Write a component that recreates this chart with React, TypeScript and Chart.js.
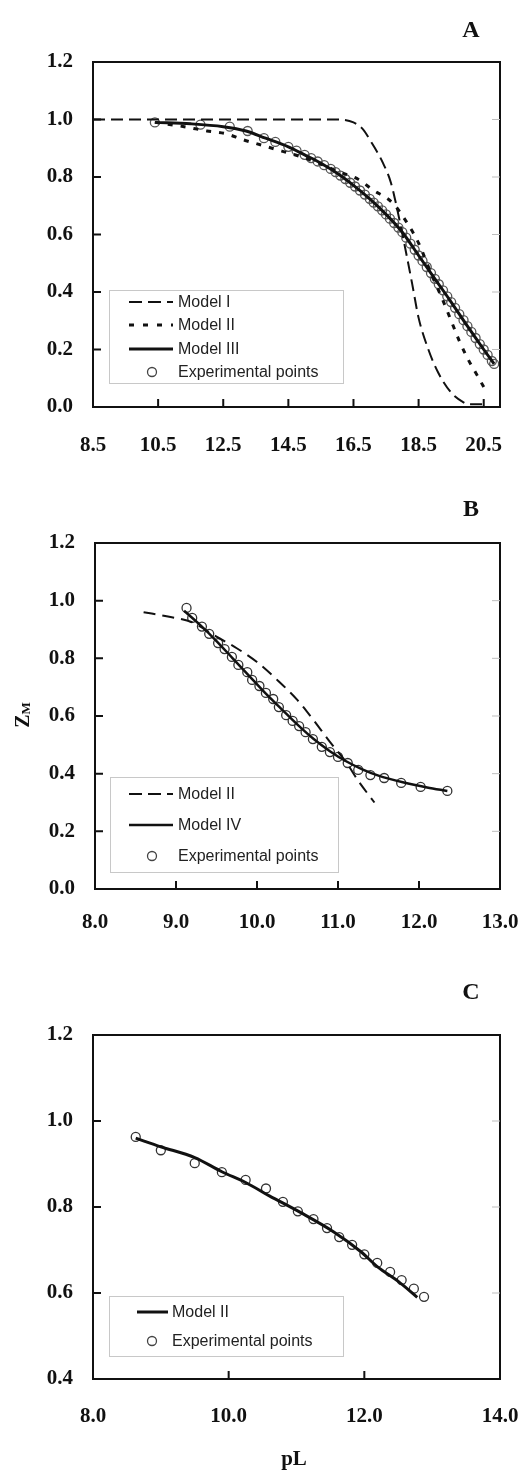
import React, { useEffect, useRef } from "react";
import { Chart, registerables } from "chart.js";

Chart.register(...registerables);

// ---------- Panel A ----------
const aXTicks = [8.5, 10.5, 12.5, 14.5, 16.5, 18.5, 20.5];
const aYTicks = [0, 0.2, 0.4, 0.6, 0.8, 1.0, 1.2];

const aModel1X = [8.5, 16.0, 16.5, 16.8, 17.0, 17.4, 17.65, 17.8, 18.1, 18.3, 18.5, 18.8, 19.1, 19.5, 19.9, 20.0, 20.45];
const aModel1Y = [1.0, 1.0, 0.99, 0.965, 0.93, 0.85, 0.78, 0.71, 0.546, 0.43, 0.31, 0.2, 0.12, 0.05, 0.015, 0.01, 0.01];

const aModel2X = [10.4, 11.3, 12.0, 12.6, 13.1, 13.7, 14.3, 14.9, 15.5, 16.0, 16.6, 17.1, 17.7, 18.15, 18.5, 18.9, 19.25, 19.5, 19.75, 20.0, 20.3, 20.6];
const aModel2Y = [0.99, 0.975, 0.96, 0.95, 0.93, 0.91, 0.89, 0.87, 0.845, 0.82, 0.795, 0.755, 0.71, 0.64, 0.57, 0.46, 0.37, 0.3, 0.23, 0.17, 0.11, 0.05];

const aModel3X = [10.4, 11.5, 12.5, 13.2, 13.8, 14.5, 15.0, 15.5, 16.0, 16.5, 17.0, 17.5, 18.0, 18.5, 19.0, 19.5, 20.0, 20.5, 20.82];
const aModel3Y = [0.99, 0.985, 0.975, 0.96, 0.935, 0.905, 0.877, 0.848, 0.813, 0.771, 0.724, 0.67, 0.608, 0.527, 0.446, 0.365, 0.281, 0.2, 0.15];

const aExpX = [10.4, 11.8, 12.7, 13.25, 13.75, 14.1, 14.5, 14.75, 15.0, 15.2, 15.4, 15.6, 15.8, 15.95, 16.1, 16.25, 16.4, 16.55, 16.7, 16.85, 17.0, 17.12, 17.25, 17.38, 17.5, 17.62, 17.75, 17.88, 18.0, 18.12, 18.25, 18.38, 18.5, 18.62, 18.75, 18.88, 19.0, 19.12, 19.25, 19.38, 19.5, 19.62, 19.75, 19.88, 20.0, 20.12, 20.25, 20.38, 20.5, 20.62, 20.75, 20.82];
const aExpY = [0.99, 0.982, 0.975, 0.96, 0.935, 0.922, 0.905, 0.892, 0.877, 0.866, 0.854, 0.841, 0.828, 0.817, 0.805, 0.793, 0.78, 0.767, 0.753, 0.739, 0.724, 0.711, 0.698, 0.684, 0.67, 0.655, 0.64, 0.624, 0.608, 0.589, 0.568, 0.547, 0.527, 0.508, 0.487, 0.466, 0.446, 0.427, 0.406, 0.385, 0.365, 0.345, 0.323, 0.302, 0.281, 0.261, 0.24, 0.219, 0.2, 0.181, 0.16, 0.15];

// ---------- Panel B ----------
const bXTicks = [8.0, 9.0, 10.0, 11.0, 12.0, 13.0];
const bYTicks = [0, 0.2, 0.4, 0.6, 0.8, 1.0, 1.2];

const bModel2X = [8.6, 8.9, 9.2, 9.5, 9.75, 10.0, 10.25, 10.5, 10.7, 10.9, 11.1, 11.25, 11.45];
const bModel2Y = [0.96, 0.945, 0.925, 0.875, 0.835, 0.787, 0.725, 0.655, 0.585, 0.51, 0.44, 0.375, 0.3];

const bModel4X = [9.1, 9.3, 9.5, 9.7, 9.9, 10.1, 10.3, 10.5, 10.7, 10.9, 11.1, 11.3, 11.5, 11.8, 12.1, 12.35];
const bModel4Y = [0.965, 0.915, 0.86, 0.8, 0.74, 0.68, 0.625, 0.57, 0.52, 0.478, 0.443, 0.415, 0.393, 0.37, 0.352, 0.34];

const bExpX = [9.13, 9.2, 9.32, 9.41, 9.52, 9.6, 9.69, 9.77, 9.88, 9.94, 10.03, 10.11, 10.2, 10.27, 10.36, 10.44, 10.52, 10.6, 10.69, 10.8, 10.9, 11.0, 11.12, 11.25, 11.4, 11.57, 11.78, 12.02, 12.35];
const bExpY = [0.975, 0.94, 0.91, 0.885, 0.853, 0.832, 0.805, 0.777, 0.752, 0.725, 0.704, 0.68, 0.659, 0.631, 0.603, 0.583, 0.565, 0.544, 0.52, 0.493, 0.475, 0.458, 0.437, 0.413, 0.395, 0.385, 0.368, 0.354, 0.34];

// ---------- Panel C ----------
const cXTicks = [8.0, 10.0, 12.0, 14.0];
const cYTicks = [0.4, 0.6, 0.8, 1.0, 1.2];

const cModel2X = [8.63, 9.0, 9.5, 9.9, 10.25, 10.6, 11.05, 11.55, 11.95, 12.2, 12.5, 12.78];
const cModel2Y = [0.96, 0.94, 0.915, 0.882, 0.857, 0.826, 0.788, 0.742, 0.696, 0.66, 0.627, 0.59];

const cExpX = [8.63, 9.0, 9.5, 9.9, 10.25, 10.55, 10.8, 11.02, 11.25, 11.45, 11.63, 11.82, 12.0, 12.19, 12.38, 12.55, 12.73, 12.88];
const cExpY = [0.963, 0.932, 0.902, 0.881, 0.863, 0.843, 0.812, 0.79, 0.772, 0.751, 0.73, 0.712, 0.69, 0.67, 0.649, 0.63, 0.61, 0.591];

const W = 529;
const SERIF = '"Liberation Serif", "Times New Roman", serif';
const SANS = '"Liberation Sans", Arial, sans-serif';
const INK = "#111";

const toPts = (xs: number[], ys: number[]) => xs.map((x, i) => ({ x, y: ys[i] }));

type LegendItem = { kind: "line" | "point"; label: string; dash?: number[]; width?: number };
type LegendSpec = {
  box: [number, number, number, number];
  rows: number[];
  lineX: [number, number];
  pointX: number;
  textX: number;
  items: LegendItem[];
};

type PanelSpec = {
  height: number;
  area: { left: number; top: number; bottom: number };
  xMin: number;
  xMax: number;
  yMin: number;
  yMax: number;
  xTicks: number[];
  yTicks: number[];
  xPad: number;
  datasets: any[];
  legend: LegendSpec;
  letter: { text: string; x: number; y: number };
  extra?: (ctx: CanvasRenderingContext2D) => void;
};

function lineDS(xs: number[], ys: number[], label: string, dash: number[], width: number, order: number) {
  return {
    label,
    data: toPts(xs, ys),
    showLine: true,
    borderColor: INK,
    borderWidth: width,
    borderDash: dash,
    pointRadius: 0,
    fill: false,
    cubicInterpolationMode: "monotone",
    order,
  };
}

function pointDS(xs: number[], ys: number[], color: string, order: number) {
  return {
    label: "Experimental points",
    data: toPts(xs, ys),
    showLine: false,
    pointRadius: 4.5,
    pointBorderWidth: 1.3,
    pointBorderColor: color,
    pointBackgroundColor: "rgba(0,0,0,0)",
    borderColor: color,
    backgroundColor: "rgba(0,0,0,0)",
    order,
  };
}

function buildChart(canvas: HTMLCanvasElement, spec: PanelSpec) {
  const decor = {
    id: "decor",
    afterDraw(chart: any) {
      const { ctx, chartArea: a, scales } = chart;
      ctx.save();
      // frame
      ctx.strokeStyle = INK;
      ctx.lineWidth = 2;
      ctx.setLineDash([]);
      ctx.strokeRect(a.left, a.top, a.right - a.left, a.bottom - a.top);
      // inward ticks
      ctx.beginPath();
      for (const v of spec.xTicks) {
        const px = scales.x.getPixelForValue(v);
        if (px <= a.left + 2 || px >= a.right - 2) continue;
        ctx.moveTo(px, a.bottom);
        ctx.lineTo(px, a.bottom - 8);
      }
      for (const v of spec.yTicks) {
        const py = scales.y.getPixelForValue(v);
        if (py <= a.top + 2 || py >= a.bottom - 2) continue;
        ctx.moveTo(a.left, py);
        ctx.lineTo(a.left + 8, py);
      }
      ctx.stroke();
      ctx.strokeStyle = "#bdbdbd";
      ctx.lineWidth = 1;
      ctx.beginPath();
      for (const v of spec.yTicks) {
        const py = scales.y.getPixelForValue(v);
        if (py <= a.top + 2 || py >= a.bottom - 2) continue;
        ctx.moveTo(a.right - 8, py);
        ctx.lineTo(a.right, py);
      }
      ctx.stroke();

      // legend
      const L = spec.legend;
      const [bx, by, bw, bh] = L.box;
      ctx.fillStyle = "#fff";
      ctx.fillRect(bx, by, bw, bh);
      ctx.strokeStyle = "#c8c8c8";
      ctx.lineWidth = 1;
      ctx.strokeRect(bx + 0.5, by + 0.5, bw, bh);
      L.items.forEach((it, i) => {
        const y = L.rows[i];
        if (it.kind === "line") {
          ctx.strokeStyle = INK;
          ctx.lineWidth = it.width || 2;
          ctx.setLineDash(it.dash || []);
          ctx.beginPath();
          ctx.moveTo(L.lineX[0], y);
          ctx.lineTo(L.lineX[1], y);
          ctx.stroke();
          ctx.setLineDash([]);
        } else {
          ctx.strokeStyle = "#444";
          ctx.lineWidth = 1.3;
          ctx.beginPath();
          ctx.arc(L.pointX, y, 4.5, 0, Math.PI * 2);
          ctx.stroke();
        }
        ctx.fillStyle = "#222";
        ctx.font = `16px ${SANS}`;
        ctx.textAlign = "left";
        ctx.textBaseline = "middle";
        ctx.fillText(it.label, L.textX, y + 1);
      });

      // panel letter
      ctx.fillStyle = INK;
      ctx.font = `bold 24px ${SERIF}`;
      ctx.textAlign = "center";
      ctx.textBaseline = "middle";
      ctx.fillText(spec.letter.text, spec.letter.x, spec.letter.y);

      if (spec.extra) spec.extra(ctx);
      ctx.restore();
    },
  };

  const tickFont = { family: SERIF, size: 21, weight: "bold" as const };

  return new Chart(canvas, {
    type: "scatter",
    data: { datasets: spec.datasets },
    options: {
      responsive: false,
      animation: false,
      maintainAspectRatio: false,
      layout: { padding: { left: 0, right: W - 500, top: spec.area.top, bottom: 0 } },
      plugins: { legend: { display: false }, tooltip: { enabled: false } },
      scales: {
        x: {
          type: "linear",
          min: spec.xMin,
          max: spec.xMax,
          grid: { display: false, drawTicks: false },
          border: { display: false },
          afterBuildTicks: (s: any) => {
            s.ticks = spec.xTicks.map((v) => ({ value: v }));
          },
          afterFit: (s: any) => {
            s.height = spec.height - spec.area.bottom;
            s.paddingLeft = 0;
            s.paddingRight = 0;
            s.paddingTop = 0;
            s.paddingBottom = 0;
          },
          ticks: {
            autoSkip: false,
            maxRotation: 0,
            padding: spec.xPad,
            color: INK,
            font: tickFont,
            callback: (v: any) => Number(v).toFixed(1),
          },
        },
        y: {
          type: "linear",
          min: spec.yMin,
          max: spec.yMax,
          grid: { display: false, drawTicks: false },
          border: { display: false },
          afterBuildTicks: (s: any) => {
            s.ticks = spec.yTicks.map((v) => ({ value: v }));
          },
          afterFit: (s: any) => {
            s.width = spec.area.left;
            s.paddingLeft = 0;
            s.paddingRight = 0;
            s.paddingTop = 0;
            s.paddingBottom = 0;
          },
          ticks: {
            autoSkip: false,
            padding: 20,
            color: INK,
            font: tickFont,
            callback: (v: any) => Number(v).toFixed(1),
          },
        },
      },
    } as any,
    plugins: [decor],
  });
}

const panelA: PanelSpec = {
  height: 460,
  area: { left: 93, top: 62, bottom: 407 },
  xMin: 8.5,
  xMax: 21.0,
  yMin: 0,
  yMax: 1.2,
  xTicks: aXTicks,
  yTicks: aYTicks,
  xPad: 26,
  datasets: [
    lineDS(aModel3X, aModel3Y, "Model III", [], 3, 1),
    lineDS(aModel2X, aModel2Y, "Model II", [5, 8], 3, 2),
    lineDS(aModel1X, aModel1Y, "Model I", [12, 6], 2, 3),
    pointDS(aExpX, aExpY, "#555", 4),
  ],
  legend: {
    box: [109, 290, 234, 93],
    rows: [302, 325, 349, 372],
    lineX: [129, 173],
    pointX: 152,
    textX: 178,
    items: [
      { kind: "line", label: "Model I", dash: [13, 6], width: 2 },
      { kind: "line", label: "Model II", dash: [5, 9], width: 3 },
      { kind: "line", label: "Model III", width: 3 },
      { kind: "point", label: "Experimental points" },
    ],
  },
  letter: { text: "A", x: 471, y: 31 },
};

const panelB: PanelSpec = {
  height: 500,
  area: { left: 95, top: 83, bottom: 429 },
  xMin: 8.0,
  xMax: 13.0,
  yMin: 0,
  yMax: 1.2,
  xTicks: bXTicks,
  yTicks: bYTicks,
  xPad: 21,
  datasets: [
    lineDS(bModel4X, bModel4Y, "Model IV", [], 2.5, 1),
    lineDS(bModel2X, bModel2Y, "Model II", [12, 7], 2, 2),
    pointDS(bExpX, bExpY, "#333", 3),
  ],
  legend: {
    box: [110, 317, 228, 95],
    rows: [334, 365, 396],
    lineX: [129, 173],
    pointX: 152,
    textX: 178,
    items: [
      { kind: "line", label: "Model II", dash: [13, 6], width: 2 },
      { kind: "line", label: "Model IV", width: 2.5 },
      { kind: "point", label: "Experimental points" },
    ],
  },
  letter: { text: "B", x: 471, y: 50 },
  extra: (ctx) => {
    ctx.save();
    ctx.translate(24, 255);
    ctx.rotate(-Math.PI / 2);
    ctx.fillStyle = INK;
    ctx.textBaseline = "middle";
    ctx.textAlign = "left";
    ctx.font = `bold 20px ${SERIF}`;
    const zw = ctx.measureText("Z").width;
    ctx.font = `bold 13px ${SERIF}`;
    const mw = ctx.measureText("M").width;
    const x0 = -(zw + mw) / 2;
    ctx.font = `bold 20px ${SERIF}`;
    ctx.fillText("Z", x0, 0);
    ctx.font = `bold 13px ${SERIF}`;
    ctx.fillText("M", x0 + zw, 3);
    ctx.restore();
  },
};

const panelC: PanelSpec = {
  height: 510,
  area: { left: 93, top: 75, bottom: 419 },
  xMin: 8.0,
  xMax: 14.0,
  yMin: 0.4,
  yMax: 1.2,
  xTicks: cXTicks,
  yTicks: cYTicks,
  xPad: 25,
  datasets: [
    lineDS(cModel2X, cModel2Y, "Model II", [], 3, 1),
    pointDS(cExpX, cExpY, "#333", 2),
  ],
  legend: {
    box: [109, 336, 234, 60],
    rows: [352, 381],
    lineX: [137, 168],
    pointX: 152,
    textX: 172,
    items: [
      { kind: "line", label: "Model II", width: 3 },
      { kind: "point", label: "Experimental points" },
    ],
  },
  letter: { text: "C", x: 471, y: 33 },
  extra: (ctx) => {
    ctx.fillStyle = INK;
    ctx.font = `bold 21px ${SERIF}`;
    ctx.textAlign = "center";
    ctx.textBaseline = "middle";
    ctx.fillText("pL", 294, 500);
  },
};

export default function App() {
  const refA = useRef<HTMLCanvasElement>(null);
  const refB = useRef<HTMLCanvasElement>(null);
  const refC = useRef<HTMLCanvasElement>(null);

  useEffect(() => {
    const charts: Chart[] = [];
    if (refA.current) charts.push(buildChart(refA.current, panelA));
    if (refB.current) charts.push(buildChart(refB.current, panelB));
    if (refC.current) charts.push(buildChart(refC.current, panelC));
    return () => charts.forEach((c) => c.destroy());
  }, []);

  const cs = (top: number, h: number): React.CSSProperties => ({
    position: "absolute",
    left: 0,
    top,
    width: W,
    height: h,
    display: "block",
  });

  return (
    <div style={{ position: "absolute", left: 0, top: 0, width: W, height: 1470, background: "#fff" }}>
      <canvas ref={refA} width={W} height={460} style={cs(0, 460)} />
      <canvas ref={refB} width={W} height={500} style={cs(460, 500)} />
      <canvas ref={refC} width={W} height={510} style={cs(960, 510)} />
    </div>
  );
}
